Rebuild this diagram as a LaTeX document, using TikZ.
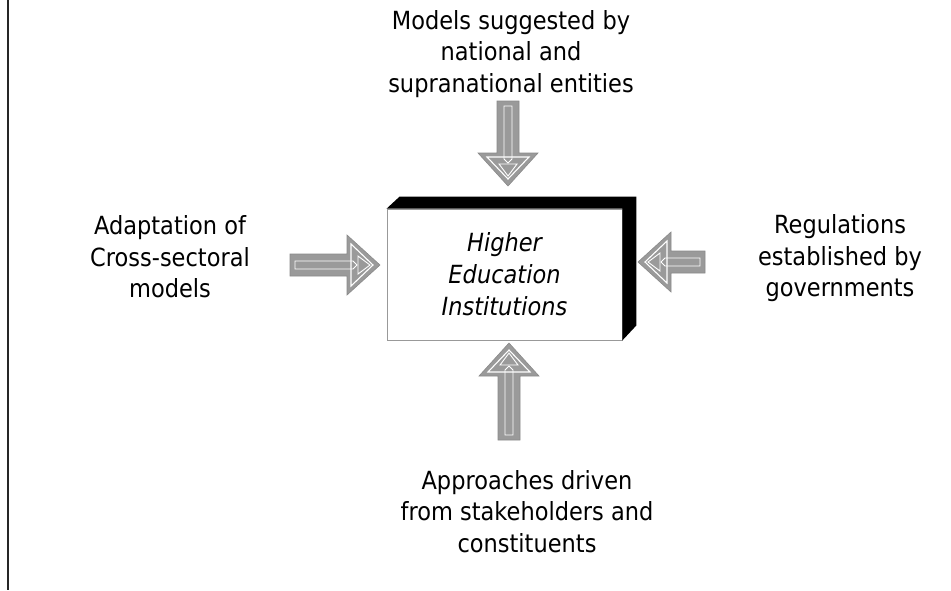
\documentclass[tikz,border=0pt]{standalone}
\usepackage{fontspec}
\setmainfont[FakeStretch=0.9]{DejaVu Sans}
\definecolor{arrowgray}{HTML}{9A9A9A}
\definecolor{arrowedge}{HTML}{8A8A8A}
\definecolor{boxedge}{HTML}{999999}
\newcommand{\heiblockarrow}[4]{%
  % #1,#2 = tip, #3 = rotation, #4 = shaft length
  \begin{scope}[shift={(#1,#2)}, rotate=#3]
    \fill[arrowgray, draw=arrowedge, line width=0.6pt, line join=miter]
      (0,0) -- (-33,-30) -- (-33,-11) -- ({-33-#4},-11) -- ({-33-#4},11)
      -- (-33,11) -- (-33,30) -- cycle;
    \draw[white, line width=0.9pt, line join=miter]
      ({-33-#4+5},-4) -- (-27,-4) -- (-23,0) -- (-27,4) -- ({-33-#4+5},4) -- cycle;
    \draw[white, line width=1.1pt, line join=miter]
      (-29,-21) -- (-7,0) -- (-29,21) -- cycle;
    \draw[white, line width=0.9pt, line join=miter]
      (-22,-9) -- (-10,0) -- (-22,9) -- cycle;
  \end{scope}%
}
\begin{document}
\begin{tikzpicture}[x=1pt,y=-1pt,
  lbl/.style={font=\fontsize{25}{31.5}\selectfont, align=center, inner sep=0pt},
  frontbox/.style={draw=boxedge, line width=0.8pt, fill=white,
    minimum width=235pt, minimum height=131pt, inner sep=0pt,
    align=center, font=\fontsize{25}{32}\selectfont\itshape}]
  \useasboundingbox (0,0) rectangle (951,590);
  \fill[white] (0,0) rectangle (951,590);
  % left border rule
  \draw[line width=2pt, color=black!85] (8,0) -- (8,590);
  % central box
  \node[frontbox] (hei) at (504.5,274.5) {Higher\\Education\\Institutions};
  \fill[black] (hei.north west) -- ++(13,-12)
    -- ([shift={(14,-12)}]hei.north east)
    -- ([shift={(14,-15)}]hei.south east)
    -- (hei.south east) -- (hei.north east) -- cycle;
  % labels
  \node[lbl] (top)    at (511,54)    {Models suggested by\\national and\\supranational entities};
  \node[lbl] (left)   at (170,257)   {Adaptation of\\Cross-sectoral\\models};
  \node[lbl] (right)  at (840,258.5) {Regulations\\established by\\governments};
  \node[lbl] (bottom) at (527,511.5) {Approaches driven\\from stakeholders and\\constituents};
  % block arrows
  \heiblockarrow{380}{265}{0}{57}
  \heiblockarrow{508}{186}{-90}{52}
  \heiblockarrow{638}{262}{180}{34}
  \heiblockarrow{509}{343}{90}{64}
\end{tikzpicture}
\end{document}
